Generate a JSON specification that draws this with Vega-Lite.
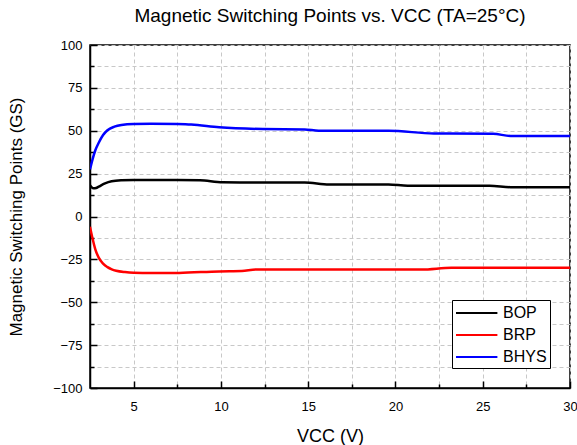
{
  "$schema": "https://vega.github.io/schema/vega-lite/v6.json",
  "width": 480,
  "height": 343,
  "autosize": "none",
  "padding": {"left": 90, "top": 45, "right": 7, "bottom": 57},
  "background": "white",
  "title": {
    "text": "Magnetic Switching Points vs. VCC (TA=25°C)",
    "font": "Liberation Sans",
    "fontSize": 19,
    "fontWeight": "normal",
    "color": "black",
    "anchor": "middle",
    "offset": 13
  },
  "config": {
    "view": {"stroke": "black", "strokeWidth": 1.5},
    "font": "Liberation Sans"
  },
  "data": {
    "values": [
      {"VCC": 2.5, "value": 18.2, "series": "BOP"},
      {"VCC": 2.6, "value": 17.0, "series": "BOP"},
      {"VCC": 2.7, "value": 16.4, "series": "BOP"},
      {"VCC": 2.85, "value": 16.6, "series": "BOP"},
      {"VCC": 3.0, "value": 17.4, "series": "BOP"},
      {"VCC": 3.36, "value": 19.3, "series": "BOP"},
      {"VCC": 3.74, "value": 20.5, "series": "BOP"},
      {"VCC": 4.3, "value": 21.1, "series": "BOP"},
      {"VCC": 5.0, "value": 21.3, "series": "BOP"},
      {"VCC": 7.5, "value": 21.3, "series": "BOP"},
      {"VCC": 8.8, "value": 21.1, "series": "BOP"},
      {"VCC": 10.1, "value": 19.9, "series": "BOP"},
      {"VCC": 14.8, "value": 19.8, "series": "BOP"},
      {"VCC": 16.2, "value": 18.7, "series": "BOP"},
      {"VCC": 19.6, "value": 18.7, "series": "BOP"},
      {"VCC": 20.7, "value": 18.0, "series": "BOP"},
      {"VCC": 25.4, "value": 18.0, "series": "BOP"},
      {"VCC": 26.6, "value": 17.1, "series": "BOP"},
      {"VCC": 30, "value": 17.0, "series": "BOP"},

      {"VCC": 2.5, "value": -6, "series": "BRP"},
      {"VCC": 2.65, "value": -13, "series": "BRP"},
      {"VCC": 2.8, "value": -19, "series": "BRP"},
      {"VCC": 3.0, "value": -24, "series": "BRP"},
      {"VCC": 3.25, "value": -27.5, "series": "BRP"},
      {"VCC": 3.5, "value": -29.5, "series": "BRP"},
      {"VCC": 3.75, "value": -30.8, "series": "BRP"},
      {"VCC": 4.0, "value": -31.6, "series": "BRP"},
      {"VCC": 4.5, "value": -32.4, "series": "BRP"},
      {"VCC": 5.0, "value": -32.8, "series": "BRP"},
      {"VCC": 6.0, "value": -33.0, "series": "BRP"},
      {"VCC": 7.6, "value": -32.9, "series": "BRP"},
      {"VCC": 9.9, "value": -32.0, "series": "BRP"},
      {"VCC": 11.2, "value": -31.8, "series": "BRP"},
      {"VCC": 12.0, "value": -30.9, "series": "BRP"},
      {"VCC": 21.5, "value": -30.9, "series": "BRP"},
      {"VCC": 23.2, "value": -29.9, "series": "BRP"},
      {"VCC": 30, "value": -29.9, "series": "BRP"},

      {"VCC": 2.5, "value": 27.5, "series": "BHYS"},
      {"VCC": 2.65, "value": 33.5, "series": "BHYS"},
      {"VCC": 2.8, "value": 38.5, "series": "BHYS"},
      {"VCC": 3.0, "value": 43.0, "series": "BHYS"},
      {"VCC": 3.25, "value": 47.5, "series": "BHYS"},
      {"VCC": 3.5, "value": 50.3, "series": "BHYS"},
      {"VCC": 3.9, "value": 52.4, "series": "BHYS"},
      {"VCC": 4.3, "value": 53.4, "series": "BHYS"},
      {"VCC": 5.0, "value": 54.0, "series": "BHYS"},
      {"VCC": 6.0, "value": 54.1, "series": "BHYS"},
      {"VCC": 7.5, "value": 53.9, "series": "BHYS"},
      {"VCC": 8.3, "value": 53.6, "series": "BHYS"},
      {"VCC": 9.9, "value": 52.0, "series": "BHYS"},
      {"VCC": 12.4, "value": 51.0, "series": "BHYS"},
      {"VCC": 14.8, "value": 50.8, "series": "BHYS"},
      {"VCC": 15.6, "value": 50.0, "series": "BHYS"},
      {"VCC": 19.6, "value": 50.0, "series": "BHYS"},
      {"VCC": 22.2, "value": 48.4, "series": "BHYS"},
      {"VCC": 25.6, "value": 48.2, "series": "BHYS"},
      {"VCC": 26.6, "value": 47.0, "series": "BHYS"},
      {"VCC": 30, "value": 47.0, "series": "BHYS"}
    ]
  },
  "mark": {"type": "line", "interpolate": "monotone", "strokeWidth": 2.5, "clip": true},
  "encoding": {
    "x": {
      "field": "VCC",
      "type": "quantitative",
      "scale": {"domain": [2.5, 30], "nice": false, "zero": false},
      "axis": {
        "title": "VCC (V)",
        "titleFont": "Liberation Sans",
        "titleFontSize": 18,
        "titleFontWeight": "normal",
        "titleColor": "black",
        "titlePadding": 14,
        "values": [5, 7.5, 10, 12.5, 15, 17.5, 20, 22.5, 25, 27.5, 30],
        "labelExpr": "datum.value % 5 === 0 ? datum.label : ''",
        "labelFont": "Liberation Sans",
        "labelFontSize": 13,
        "labelColor": "black",
        "labelPadding": 19,
        "labelFlush": false,
        "domain": true,
        "domainColor": "black",
        "domainWidth": 1.5,
        "ticks": true,
        "tickColor": "black",
        "tickWidth": 1.5,
        "tickSize": {"condition": {"test": "datum.value % 5 === 0", "value": -7}, "value": -4},
        "grid": true,
        "gridColor": "#c8c8c8",
        "gridDash": [4, 3],
        "gridWidth": 1
      }
    },
    "y": {
      "field": "value",
      "type": "quantitative",
      "scale": {"domain": [-100, 100], "nice": false},
      "axis": {
        "title": "Magnetic Switching Points (GS)",
        "titleFont": "Liberation Sans",
        "titleFontSize": 17,
        "titleFontWeight": "normal",
        "titleColor": "black",
        "titlePadding": 27,
        "values": [-100, -87.5, -75, -62.5, -50, -37.5, -25, -12.5, 0, 12.5, 25, 37.5, 50, 62.5, 75, 87.5, 100],
        "labelExpr": "datum.value % 25 === 0 ? datum.label : ''",
        "labelFont": "Liberation Sans",
        "labelFontSize": 13,
        "labelColor": "black",
        "labelPadding": 15,
        "labelFlush": false,
        "domain": true,
        "domainColor": "black",
        "domainWidth": 1.5,
        "ticks": true,
        "tickColor": "black",
        "tickWidth": 1.5,
        "tickSize": {"condition": {"test": "datum.value % 25 === 0", "value": -7}, "value": -4},
        "grid": true,
        "gridColor": "#c8c8c8",
        "gridDash": [4, 3],
        "gridWidth": 1
      }
    },
    "color": {
      "field": "series",
      "type": "nominal",
      "scale": {"domain": ["BOP", "BRP", "BHYS"], "range": ["#000000", "#ff0000", "#0000ff"]},
      "sort": ["BOP", "BRP", "BHYS"],
      "legend": {
        "title": null,
        "orient": "none",
        "legendX": 362,
        "legendY": 255,
        "symbolType": "M-1,0H3.6",
        "symbolSize": 324,
        "symbolStrokeWidth": 2,
        "labelFont": "Liberation Sans",
        "labelFontSize": 16,
        "labelColor": "black",
        "labelOffset": 28,
        "rowPadding": 4,
        "padding": 3,
        "strokeColor": "black",
        "fillColor": "white",
        "cornerRadius": 0
      }
    }
  }
}
